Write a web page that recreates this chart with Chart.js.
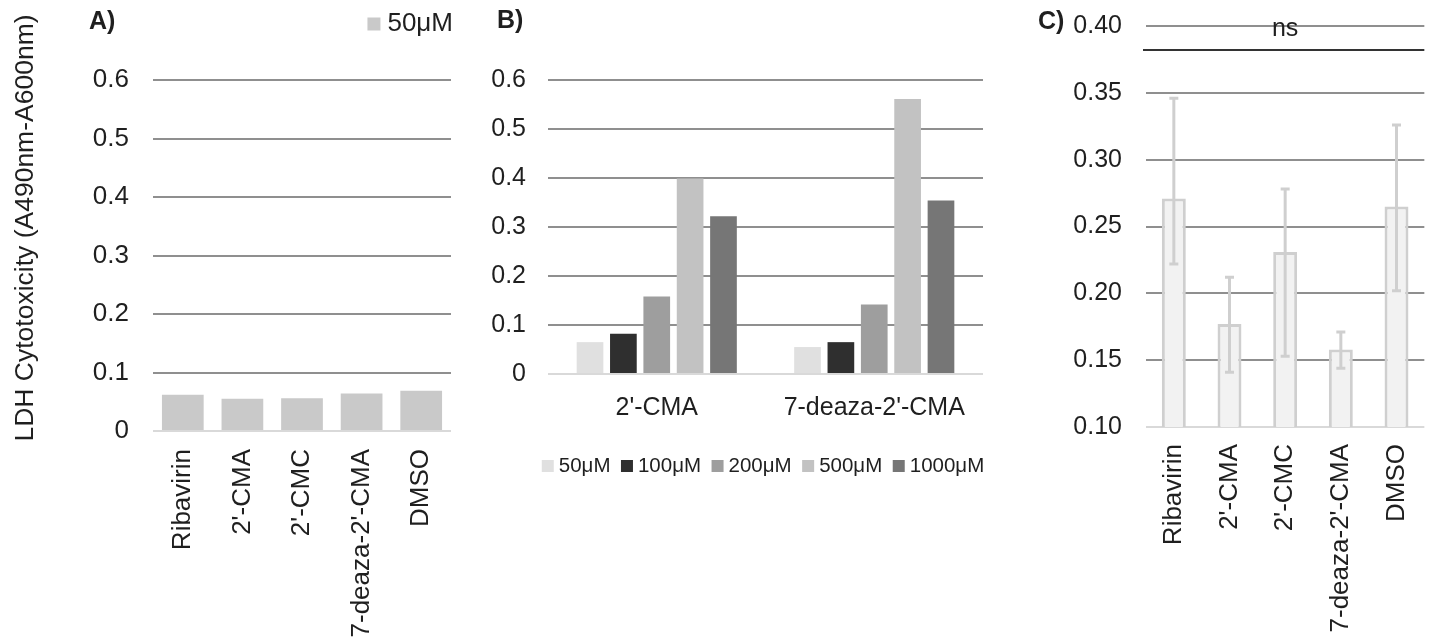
<!DOCTYPE html>
<html>
<head>
<meta charset="utf-8">
<script src="https://cdn.jsdelivr.net/npm/chart.js@4.4.1/dist/chart.umd.min.js"></script>
<style>
  body { margin: 0; background: #fff; }
  #wrap { position: relative; width: 1437px; height: 638px; overflow: hidden; }
  canvas { position: absolute; top: 0; }
</style>
</head>
<body>
<div id="wrap">
  <canvas id="chartA" width="470" height="638" style="left:0px"></canvas>
  <canvas id="chartB" width="540" height="638" style="left:470px"></canvas>
  <canvas id="chartC" width="427" height="638" style="left:1010px"></canvas>
</div>
<script>
// Panel A: 50uM for every compound
const compoundsA = ['Ribavirin', "2'-CMA", "2'-CMC", "7-deaza-2'-CMA", 'DMSO'];
const ldhA = [0.062, 0.055, 0.056, 0.064, 0.069];
const ticksAB = [0, 0.1, 0.2, 0.3, 0.4, 0.5, 0.6];
const tickLabelsAB = ['0', '0.1', '0.2', '0.3', '0.4', '0.5', '0.6'];

// Panel B: dose series
const compoundsB = ["2'-CMA", "7-deaza-2'-CMA"];
const doses = ['50μM', '100μM', '200μM', '500μM', '1000μM'];
const ldh50 = [0.065, 0.055];
const ldh100 = [0.082, 0.065];
const ldh200 = [0.158, 0.142];
const ldh500 = [0.399, 0.561];
const ldh1000 = [0.322, 0.354];

// Panel C: mean with error bar ends
const compoundsC = ['Ribavirin', "2'-CMA", "2'-CMC", "7-deaza-2'-CMA", 'DMSO'];
const ldhC = [0.271, 0.177, 0.231, 0.158, 0.265];
const errHighC = [0.346, 0.212, 0.278, 0.171, 0.326];
const errLowC = [0.222, 0.141, 0.153, 0.144, 0.202];
const ticksC = [0.10, 0.15, 0.20, 0.25, 0.30, 0.35, 0.40];
const tickLabelsC = ['0.10', '0.15', '0.20', '0.25', '0.30', '0.35', '0.40'];
const nsLevel = 0.382;

Chart.defaults.font.family = '"Liberation Sans", Arial, sans-serif';
Chart.defaults.color = '#1f1f1f';
Chart.defaults.animation = false;

const FONT = '"Liberation Sans", Arial, sans-serif';

// tick gap done with an invisible tick mark so the layout does not add it on top
function yAxis(ticks, labels, width, size, gap) {
    return {
        min: ticks[0],
        max: ticks[ticks.length - 1],
        afterBuildTicks: s => { s.ticks = ticks.map(v => ({ value: v })); },
        afterFit: s => { s.width = width; },
        border: { display: false },
        grid: {
            drawTicks: true,
            tickLength: gap,
            tickColor: 'rgba(0,0,0,0)',
            lineWidth: 2,
            color: c => c.index === 0 ? '#d9d9d9' : '#8f8f8f'
        },
        ticks: { padding: 0, font: { size: size }, callback: (v, i) => labels[i] }
    };
}

function xAxis(height, size, pad, rot) {
    return {
        afterFit: s => { s.height = height; },
        border: { display: false },
        grid: { display: false },
        ticks: { padding: pad, font: { size: size }, minRotation: rot, maxRotation: rot, autoSkip: false }
    };
}

// panel letters, axis title, legends
const annotate = {
    id: 'annotate',
    afterDraw(chart, args, opts) {
        const ctx = chart.ctx;
        (opts.texts || []).forEach(t => {
            ctx.save();
            ctx.font = t.font;
            ctx.fillStyle = '#1f1f1f';
            ctx.textAlign = t.align || 'left';
            ctx.textBaseline = 'middle';
            ctx.translate(t.x, t.y);
            if (t.rotate) ctx.rotate(t.rotate);
            ctx.fillText(t.text, 0, 0);
            ctx.restore();
        });
        const lg = opts.legend;
        if (!lg) return;
        ctx.save();
        ctx.font = lg.size + 'px ' + FONT;
        const items = chart.data.datasets.map(d => ({
            label: d.label, color: d.backgroundColor,
            w: lg.box + lg.gap + ctx.measureText(d.label).width
        }));
        const total = items.reduce((a, it) => a + it.w, 0) + lg.spacing * (items.length - 1);
        let x = lg.align === 'right' ? lg.x - total : lg.x - total / 2;
        ctx.textBaseline = 'middle';
        ctx.textAlign = 'left';
        items.forEach(it => {
            ctx.fillStyle = it.color;
            ctx.fillRect(x, lg.y - lg.box / 2, lg.box, lg.box);
            ctx.fillStyle = '#1f1f1f';
            ctx.fillText(it.label, x + lg.box + lg.gap, lg.y);
            x += it.w + lg.spacing;
        });
        ctx.restore();
    }
};

new Chart(document.getElementById('chartA'), {
    type: 'bar',
    data: {
        labels: compoundsA,
        datasets: [{ label: '50μM', data: ldhA, backgroundColor: '#c9c9c9', barPercentage: 0.7, categoryPercentage: 1 }]
    },
    options: {
        responsive: false,
        devicePixelRatio: 1,
        layout: { padding: { left: 0, right: 19, top: 80, bottom: 0 } },
        scales: {
            x: xAxis(207, 26, 10, 90),
            y: yAxis(ticksAB, tickLabelsAB, 153, 26, 24)
        },
        plugins: {
            legend: { display: false },
            tooltip: { enabled: false },
            annotate: {
                texts: [
                    { text: 'A)', x: 89, y: 22, font: 'bold 25px ' + FONT },
                    { text: 'LDH Cytotoxicity (A490nm-A600nm)', x: 26, y: 228, font: '26.5px ' + FONT, align: 'center', rotate: -Math.PI / 2 }
                ],
                legend: { x: 453, y: 24, size: 26, box: 13, gap: 7, spacing: 10, align: 'right' }
            }
        }
    },
    plugins: [annotate]
});

new Chart(document.getElementById('chartB'), {
    type: 'bar',
    data: {
        labels: compoundsB,
        datasets: [
            { label: doses[0], data: ldh50, backgroundColor: '#e0e0e0' },
            { label: doses[1], data: ldh100, backgroundColor: '#2f2f2f' },
            { label: doses[2], data: ldh200, backgroundColor: '#9e9e9e' },
            { label: doses[3], data: ldh500, backgroundColor: '#c2c2c2' },
            { label: doses[4], data: ldh1000, backgroundColor: '#767676' }
        ]
    },
    options: {
        responsive: false,
        devicePixelRatio: 1,
        datasets: { bar: { barPercentage: 0.8, categoryPercentage: 0.767 } },
        layout: { padding: { left: 0, right: 27, top: 80, bottom: 0 } },
        scales: {
            x: xAxis(264, 25, 11, 0),
            y: yAxis(ticksAB, tickLabelsAB, 78, 25, 22)
        },
        plugins: {
            legend: { display: false },
            tooltip: { enabled: false },
            annotate: {
                texts: [{ text: 'B)', x: 27, y: 21, font: 'bold 25px ' + FONT }],
                legend: { x: 293, y: 466, size: 20.5, box: 12, gap: 5, spacing: 10.5, align: 'center' }
            }
        }
    },
    plugins: [annotate]
});

// error bars + significance line for panel C
const errorBars = {
    id: 'errorBars',
    afterDatasetsDraw(chart) {
        const ctx = chart.ctx;
        const y = chart.scales.y;
        const bars = chart.getDatasetMeta(0).data;
        ctx.save();
        ctx.strokeStyle = '#cfcfcf';
        ctx.lineWidth = 3;
        bars.forEach((bar, i) => {
            const top = y.getPixelForValue(errHighC[i]);
            const bot = y.getPixelForValue(errLowC[i]);
            ctx.beginPath();
            ctx.moveTo(bar.x, top); ctx.lineTo(bar.x, bot);
            ctx.moveTo(bar.x - 4.5, top); ctx.lineTo(bar.x + 4.5, top);
            ctx.moveTo(bar.x - 4.5, bot); ctx.lineTo(bar.x + 4.5, bot);
            ctx.stroke();
        });
        const area = chart.chartArea;
        const ly = y.getPixelForValue(nsLevel);
        ctx.strokeStyle = '#333333';
        ctx.lineWidth = 2;
        ctx.beginPath();
        ctx.moveTo(area.left - 3, ly); ctx.lineTo(area.right, ly);
        ctx.stroke();
        ctx.fillStyle = '#1f1f1f';
        ctx.font = '25px ' + FONT;
        ctx.textAlign = 'center';
        ctx.textBaseline = 'alphabetic';
        ctx.fillText('ns', (area.left + area.right) / 2, ly - 14);
        ctx.restore();
    }
};

new Chart(document.getElementById('chartC'), {
    type: 'bar',
    data: {
        labels: compoundsC,
        datasets: [{
            label: 'LDH', data: ldhC, backgroundColor: '#f2f2f2', borderColor: '#cfcfcf',
            borderWidth: 3, barPercentage: 0.43, categoryPercentage: 1
        }]
    },
    options: {
        responsive: false,
        devicePixelRatio: 1,
        layout: { padding: { left: 0, right: 3, top: 26, bottom: 0 } },
        scales: {
            x: xAxis(211, 26, 9, 90),
            y: yAxis(ticksC, tickLabelsC, 136, 25, 24)
        },
        plugins: {
            legend: { display: false },
            tooltip: { enabled: false },
            annotate: {
                texts: [{ text: 'C)', x: 28, y: 22, font: 'bold 25px ' + FONT }]
            }
        }
    },
    plugins: [annotate, errorBars]
});
</script>
</body>
</html>
